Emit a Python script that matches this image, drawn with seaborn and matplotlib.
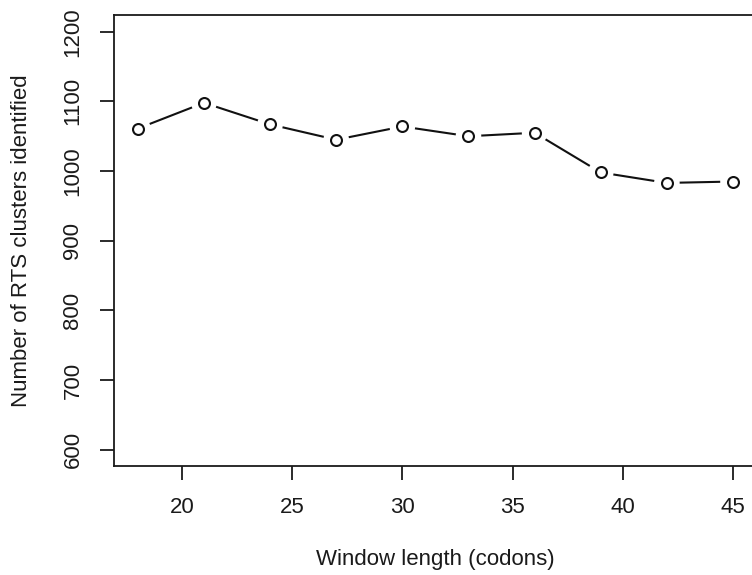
import seaborn as sns
import pandas as pd
import matplotlib
matplotlib.use('Agg')
import matplotlib.pyplot as plt

# window length (codons) vs number of RTS clusters found
window_length = [18, 21, 24, 27, 30, 33, 36, 39, 42, 45]
n_clusters = [1061, 1098, 1067, 1045, 1064, 1050, 1055, 998, 983, 985]
x_ticks = [20, 25, 30, 35, 40, 45]
y_ticks = [600, 700, 800, 900, 1000, 1100, 1200]

sns.set_style('white')
plt.rcParams['font.family'] = ['Liberation Sans', 'DejaVu Sans']

data = pd.DataFrame({'window': window_length, 'clusters': n_clusters})

fig = plt.figure(figsize=(7.52, 5.75), dpi=100)
ax = fig.add_axes([0.1516, 0.1887, 0.8548, 0.7852])

# R type="b": line with gaps around the points
sns.lineplot(x='window', y='clusters', data=data, ax=ax, color='#111111',
             linewidth=1.5, zorder=2)
sns.scatterplot(x='window', y='clusters', data=data, ax=ax, s=340,
                facecolor='white', edgecolor='none', linewidth=0, zorder=3)
sns.scatterplot(x='window', y='clusters', data=data, ax=ax, s=62,
                facecolor='white', edgecolor='#111111', linewidth=1.5, zorder=4)

ax.set_xlim(16.92, 46.08)
ax.set_ylim(576, 1224)
ax.set_xticks(x_ticks)
ax.set_yticks(y_ticks)

for side in ['left', 'right', 'top', 'bottom']:
    ax.spines[side].set_color('#1a1a1a')
    ax.spines[side].set_linewidth(1.3)

ax.tick_params(axis='both', direction='out', length=10, width=1.3,
               color='#1a1a1a', labelsize=16, pad=12, labelcolor='#1a1a1a')
ax.tick_params(axis='x', bottom=True)
ax.tick_params(axis='y', left=True)
for lab in ax.get_yticklabels():
    lab.set_rotation(90)
    lab.set_va('center')
    lab.set_ha('right')

ax.set_xlabel('Window length (codons)', fontsize=16, labelpad=22, color='#1a1a1a')
ax.set_ylabel('Number of RTS clusters identified', fontsize=16, labelpad=22,
              color='#1a1a1a')

fig.savefig('out.png', dpi=100, facecolor='white')
